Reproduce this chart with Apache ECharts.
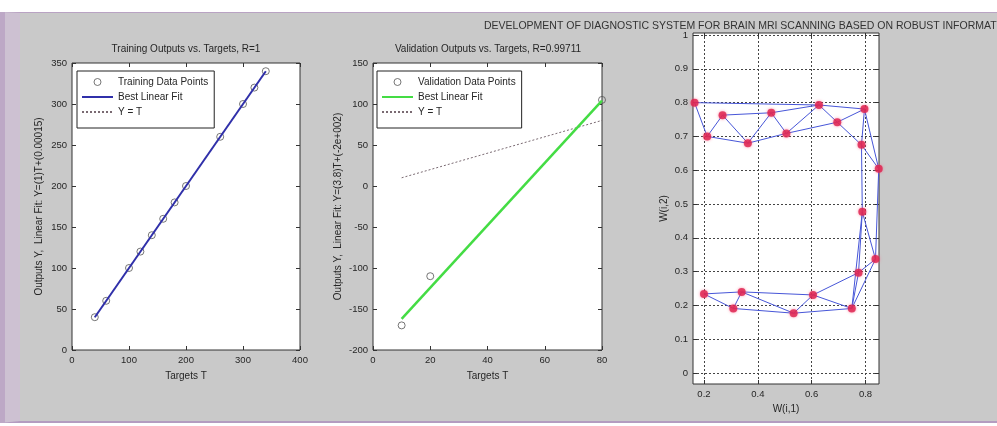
<!DOCTYPE html>
<html>
<head>
<meta charset="utf-8">
<script src="https://cdn.jsdelivr.net/npm/echarts@6/dist/echarts.min.js"></script>
<style>
  html, body { margin: 0; padding: 0; background: #fff; }
  #wrap { position: relative; width: 997px; height: 426px; overflow: hidden; }
  .panel {
    position: absolute; left: 0; top: 12px; width: 977px; height: 408px;
    background: #c9c9c9;
    border-top: 1px solid #b9a3c3;
    border-bottom: 2px solid #b49cc0;
    border-left: 20px solid #cdc1d2;
  }
  .edge { position: absolute; left: 0; top: 12px; width: 5px; height: 411px; background: #bda8c6; }
  #chart { position: absolute; left: 0; top: 0; width: 997px; height: 426px; }
</style>
</head>
<body>
<div id="wrap">
  <div class="panel"></div>
  <div class="edge"></div>
  <div id="chart"></div>
</div>
<script>
// training outputs vs targets
const trainT = [40, 60, 100, 120, 140, 160, 180, 200, 260, 300, 320, 340];
const trainY = [40, 60, 100, 120, 140, 160, 180, 200, 260, 300, 320, 340];
const trainFitT = [40, 340];
const trainFitY = [40, 340];

// validation outputs vs targets
const valT = [10, 20, 80];
const valY = [-170, -110, 105];
const valFitT = [10, 80];
const valFitY = [-162, 104];

// SOM weight positions W(i,1), W(i,2)
const somX = [0.165, 0.212, 0.269, 0.363, 0.450, 0.506, 0.627, 0.695, 0.796, 0.785,
              0.849, 0.788, 0.837, 0.774, 0.749, 0.605, 0.533, 0.340, 0.309, 0.200];
const somY = [0.800, 0.700, 0.763, 0.680, 0.770, 0.709, 0.793, 0.742, 0.781, 0.675,
              0.604, 0.477, 0.337, 0.297, 0.191, 0.231, 0.177, 0.240, 0.191, 0.234];
// neighbour links (0-based index pairs)
const somLinks = [
  [0, 1], [1, 2], [2, 3], [3, 4], [4, 5], [5, 6], [6, 7], [7, 8],
  [0, 6], [2, 4], [4, 6], [6, 8], [1, 3], [3, 5], [5, 7], [7, 9],
  [8, 9], [8, 10], [9, 10], [9, 11], [10, 12], [11, 12], [11, 13], [11, 14],
  [12, 13], [12, 14], [13, 14], [13, 15], [14, 15], [15, 16], [16, 17],
  [17, 18], [18, 19], [19, 17], [17, 15], [18, 16], [16, 14]
];
const somXTicks = [0.2, 0.4, 0.6, 0.8];
const somYTicks = [0, 0.1, 0.2, 0.3, 0.4, 0.5, 0.6, 0.7, 0.8, 0.9, 1];

const legendNames = {
  trainPts: "Training Data Points",
  trainFit: "Best Linear Fit",
  trainYT: "Y = T",
  valPts: "Validation Data Points",
  valFit: "Best Linear Fit",
  valYT: "Y = T",
};

const font = "Liberation Sans, Arial, sans-serif";
const txt = "#262626";
const zip = (a, b) => a.map((v, i) => [v, b[i]]);

// axis helpers (MATLAB style: box, inward ticks on all sides)
function axisBase(gridIndex, position, min, max) {
  return {
    type: "value",
    gridIndex: gridIndex,
    position: position,
    min: min,
    max: max,
    axisLine: { show: false, onZero: false },
    axisTick: { show: true, inside: true, length: 4, lineStyle: { color: "#333" } },
    axisLabel: { show: false },
    splitLine: { show: false },
  };
}
function mainAxis(gridIndex, position, min, max, name, nameGap) {
  const a = axisBase(gridIndex, position, min, max);
  a.axisLabel = { show: true, color: txt, fontSize: 9.5, fontFamily: font, margin: 5 };
  a.name = name;
  a.nameLocation = "middle";
  a.nameGap = nameGap;
  a.nameTextStyle = { color: txt, fontSize: 10, fontFamily: font };
  return a;
}

const xAxes = [];
const yAxes = [];
// training
let ax = mainAxis(0, "bottom", 0, 400, "Targets T", 21);
ax.interval = 100;
xAxes.push(ax);
ax = axisBase(0, "top", 0, 400); ax.interval = 100; xAxes.push(ax);
ax = mainAxis(0, "left", 0, 350, "Outputs Y,  Linear Fit: Y=(1)T+(0.00015)", 28);
ax.interval = 50;
yAxes.push(ax);
ax = axisBase(0, "right", 0, 350); ax.interval = 50; yAxes.push(ax);
// validation
ax = mainAxis(1, "bottom", 0, 80, "Targets T", 21);
ax.interval = 20;
xAxes.push(ax);
ax = axisBase(1, "top", 0, 80); ax.interval = 20; xAxes.push(ax);
ax = mainAxis(1, "left", -200, 150, "Outputs Y,  Linear Fit: Y=(3.8)T+(-2e+002)", 30);
ax.interval = 50;
yAxes.push(ax);
ax = axisBase(1, "right", -200, 150); ax.interval = 50; yAxes.push(ax);
// SOM
ax = mainAxis(2, "bottom", 0.1593, 0.85, "W(i,1)", 19);
ax.axisTick.customValues = somXTicks;
ax.axisLabel.customValues = somXTicks;
ax.splitLine = { show: true, lineStyle: { color: "#444", type: [2, 2], width: 1 } };
xAxes.push(ax);
ax = axisBase(2, "top", 0.1593, 0.85);
ax.axisTick.customValues = somXTicks;
xAxes.push(ax);
ax = mainAxis(2, "left", -0.0325, 1.006, "W(i,2)", 24);
ax.axisTick.customValues = somYTicks;
ax.axisLabel.customValues = somYTicks;
ax.splitLine = { show: true, lineStyle: { color: "#444", type: [2, 2], width: 1 } };
yAxes.push(ax);
ax = axisBase(2, "right", -0.0325, 1.006);
ax.axisTick.customValues = somYTicks;
yAxes.push(ax);

function legendBox(left, names) {
  return {
    left: left,
    top: 71,
    orient: "vertical",
    data: [
      { name: names[0], itemStyle: { borderWidth: 1 } },
      { name: names[1], itemStyle: { opacity: 0 } },
      { name: names[2], itemStyle: { opacity: 0 } },
    ],
    selectedMode: false,
    backgroundColor: "#fff",
    borderColor: "#222",
    borderWidth: 1,
    borderRadius: 0,
    padding: [5, 6, 10, 4],
    itemGap: 3,
    itemWidth: 31,
    itemHeight: 7,
    formatter: (n) => legendNames[n],
    textStyle: { color: txt, fontSize: 10, fontFamily: font, lineHeight: 12 },
  };
}

const chart = echarts.init(document.getElementById("chart"));
chart.setOption({
  animation: false,
  textStyle: { fontFamily: font },
  graphic: [
    {
      type: "text", x: 484, y: 26,
      style: { text: "DEVELOPMENT OF DIAGNOSTIC SYSTEM FOR BRAIN MRI SCANNING BASED ON ROBUST INFORMATION THEORY",
               fill: "#333", font: "10.5px " + font, verticalAlign: "middle" },
    },
    {
      type: "text", x: 186, y: 49,
      style: { text: "Training Outputs vs. Targets, R=1", fill: txt, font: "10px " + font,
               align: "center", verticalAlign: "middle" },
    },
    {
      type: "text", x: 488, y: 49,
      style: { text: "Validation Outputs vs. Targets, R=0.99711", fill: txt, font: "10px " + font,
               align: "center", verticalAlign: "middle" },
    },
  ],
  grid: [
    { left: 72, top: 63, width: 228, height: 287, show: true, backgroundColor: "#fff", borderColor: "#333", borderWidth: 1 },
    { left: 373, top: 63, width: 229, height: 287, show: true, backgroundColor: "#fff", borderColor: "#333", borderWidth: 1 },
    { left: 693, top: 33, width: 186, height: 351, show: true, backgroundColor: "#fff", borderColor: "#333", borderWidth: 1 },
  ],
  xAxis: xAxes,
  yAxis: yAxes,
  legend: [
    legendBox(77, ["trainPts", "trainFit", "trainYT"]),
    legendBox(377, ["valPts", "valFit", "valYT"]),
  ],
  series: [
    {
      name: "trainYT", type: "line", xAxisIndex: 0, yAxisIndex: 0,
      data: trainFitT.map((t) => [t, t]), symbol: "none",
      lineStyle: { color: "#7a6a72", width: 1, type: [2, 2] },
    },
    {
      name: "trainFit", type: "line", xAxisIndex: 0, yAxisIndex: 0,
      data: zip(trainFitT, trainFitY), symbol: "none",
      lineStyle: { color: "#3030aa", width: 2 },
    },
    {
      name: "trainPts", type: "scatter", xAxisIndex: 0, yAxisIndex: 0,
      data: zip(trainT, trainY), symbol: "circle", symbolSize: 7, clip: false,
      itemStyle: { color: "rgba(0,0,0,0)", borderColor: "#555", borderWidth: 1 },
    },
    {
      name: "valYT", type: "line", xAxisIndex: 2, yAxisIndex: 2,
      data: valFitT.map((t) => [t, t]), symbol: "none",
      lineStyle: { color: "#7a6a72", width: 1, type: [2, 2] },
    },
    {
      name: "valFit", type: "line", xAxisIndex: 2, yAxisIndex: 2,
      data: zip(valFitT, valFitY), symbol: "none",
      lineStyle: { color: "#44dc44", width: 2.5 },
    },
    {
      name: "valPts", type: "scatter", xAxisIndex: 2, yAxisIndex: 2,
      data: zip(valT, valY), symbol: "circle", symbolSize: 7, clip: false,
      itemStyle: { color: "rgba(0,0,0,0)", borderColor: "#555", borderWidth: 1 },
    },
    {
      name: "somLinks", type: "lines", coordinateSystem: "cartesian2d",
      xAxisIndex: 4, yAxisIndex: 4,
      data: somLinks.map(([a, b]) => ({ coords: [[somX[a], somY[a]], [somX[b], somY[b]]] })),
      lineStyle: { color: "#4756d8", width: 1, opacity: 1 },
    },
    {
      name: "somPts", type: "scatter", xAxisIndex: 4, yAxisIndex: 4,
      data: zip(somX, somY), symbolSize: 8, clip: false,
      itemStyle: { color: "#dc1f4c", shadowBlur: 3, shadowColor: "rgba(255,90,130,0.8)" },
    },
  ],
});
</script>
</body>
</html>
